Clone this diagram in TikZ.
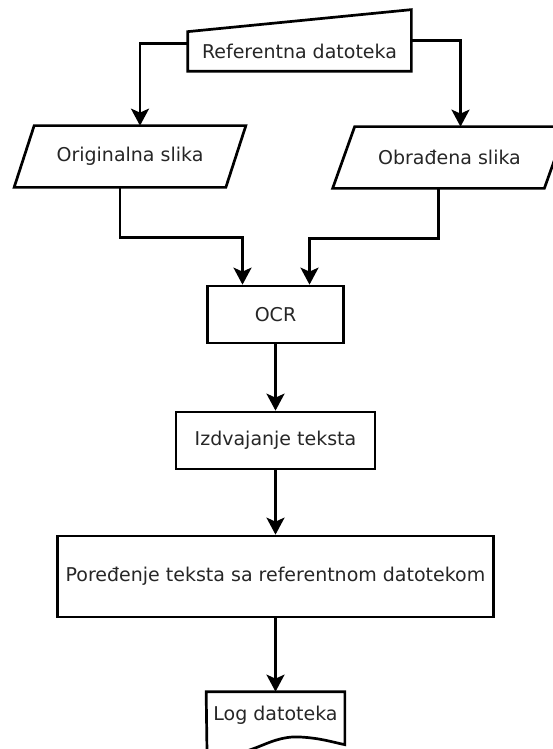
\documentclass[tikz,border=0pt]{standalone}
\usepackage{fontspec}
\setmainfont{DejaVu Sans}
\usetikzlibrary{arrows.meta}
\begin{document}
\begin{tikzpicture}[x=1pt,y=-1pt,line width=2.7pt,>={Stealth[length=17pt,width=18pt,inset=4pt]},
  every node/.style={inner sep=0pt,text=black!85,font=\fontsize{19}{22}\selectfont},
  box/.style={draw,minimum height=57pt}]
\useasboundingbox (0,0) rectangle (553,749);
\node[minimum width=221pt,minimum height=37pt] (ref) at (299.5,51.5) {Referentna datoteka};
\draw (ref.north west) -- ([yshift=22pt]ref.north east) -- (ref.south east) -- (ref.south west) -- cycle;
\node[minimum width=209pt,minimum height=59pt] (orig) at (130,156.5) {Originalna slika};
\draw ([xshift=10pt]orig.north west) -- ([xshift=10pt]orig.north east) -- ([xshift=-10pt]orig.south east) -- ([xshift=-10pt]orig.south west) -- cycle;
\node[minimum width=209pt,minimum height=59pt] (obr) at (449.5,157.5) {Obrađena slika};
\draw ([xshift=11pt]obr.north west) -- ([xshift=11pt]obr.north east) -- ([xshift=-11pt]obr.south east) -- ([xshift=-11pt]obr.south west) -- cycle;
\node[box,minimum width=136pt] (ocr) at (275.5,314.5) {OCR};
\node[box,minimum width=199pt] (izd) at (275.5,440.5) {Izdvajanje teksta};
\node[box,minimum width=436pt,minimum height=81pt] (por) at (275.5,576.5) {Poređenje teksta sa referentnom datotekom};
\node[minimum width=136pt,minimum height=45pt] (log) at (275.5,715.5) {Log datoteka};
\draw (log.north west) -- (log.north east) -- ++(0,53) .. controls (332,742) and (320,738) .. (300,737) .. controls (265,735) and (250,762) .. (207,752) -- cycle;
\draw[->] ([yshift=8pt]ref.west) -| ([xshift=10pt]orig.north);
\draw[->] ([yshift=11pt]ref.east) -| ([xshift=11pt]obr.north);
\draw[->] ([xshift=-10pt]orig.south) -- ++(0,50) -| ([xshift=-33pt]ocr.north);
\draw[->] ([xshift=-11pt]obr.south) -- ++(0,50) -| ([xshift=34pt]ocr.north);
\draw[->] (ocr) -- (izd);
\draw[->] (izd) -- (por);
\draw[->] (por) -- (log);
\end{tikzpicture}
\end{document}
